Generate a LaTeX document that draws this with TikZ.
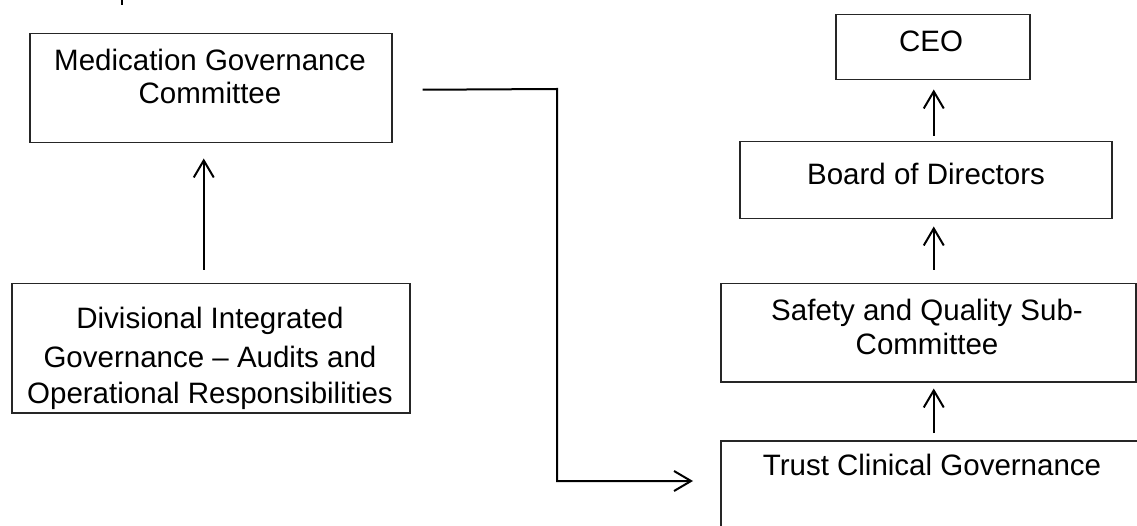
\documentclass[tikz,border=0pt]{standalone}
\usepackage{fontspec}
\setmainfont{Liberation Sans}
\usetikzlibrary{arrows.meta}
\newcommand\dfont{\fontsize{29.5pt}{36pt}\selectfont}
\begin{document}
\begin{tikzpicture}[x=1pt,y=-1pt,
  box/.style={draw=black!85, line width=1.5pt, inner sep=0pt, anchor=north west},
  txt/.style={anchor=base, inner sep=0pt, font=\dfont},
  arr/.style={line width=2pt, -{Straight Barb[length=17pt,width=20pt,line width=2pt]}}]
\useasboundingbox (0,0) rectangle (1137,526);
\clip (0,0) rectangle (1137,526);
% boxes
\node[box, minimum width=362pt, minimum height=109pt] (med) at (29,33) {};
\node[box, minimum width=398pt, minimum height=129pt] (div) at (11,283) {};
\node[box, minimum width=194pt, minimum height=65pt] (ceo) at (835,14) {};
\node[box, minimum width=372pt, minimum height=77pt] (board) at (739,141) {};
\node[box, minimum width=415pt, minimum height=98pt] (safety) at (720,283) {};
\node[box, minimum width=500pt, minimum height=150pt] (trust) at (720,440) {};
% texts
\node[txt] (med1) at (210,71) {Medication Governance};
\node[txt] (med2) at (210,104) {Committee};
\node[txt] (div1) at (210,328) {Divisional Integrated};
\node[txt] (div2) at (210,367) {Governance – Audits and};
\node[txt] (div3) at (210,403) {Operational Responsibilities};
\node[txt] (ceo1) at (931,52) {CEO};
\node[txt] (board1) at (926,185) {Board of Directors};
\node[txt] (saf1) at (927,320) {Safety and Quality Sub-};
\node[txt] (saf2) at (927,355) {Committee};
\node[txt] (trust1) at (932,475) {Trust Clinical Governance};
% fragment of cut-off text at the top
\draw[line width=2.6pt] (122,0) -- (122,5);
% connectors
\draw[arr] ([xshift=-7pt,yshift=13pt]div.north) -- ([xshift=-7pt,yshift=-15pt]med.south);
\draw[arr] ([xshift=8pt,yshift=5pt]board.north) -- ([xshift=1pt,yshift=-9pt]ceo.south);
\draw[arr] ([xshift=5.5pt,yshift=13pt]safety.north) -- ([xshift=8pt,yshift=-7pt]board.south);
\draw[arr] ([xshift=-37pt,yshift=7pt]trust.north) -- ([xshift=5.5pt,yshift=-6pt]safety.south);
\coordinate (bend) at (557,89);
\draw[arr] ([xshift=30pt,yshift=-1.5pt]med.east) -- (bend) |- ([xshift=-27pt,yshift=-41pt]trust.north west);
\end{tikzpicture}
\end{document}
